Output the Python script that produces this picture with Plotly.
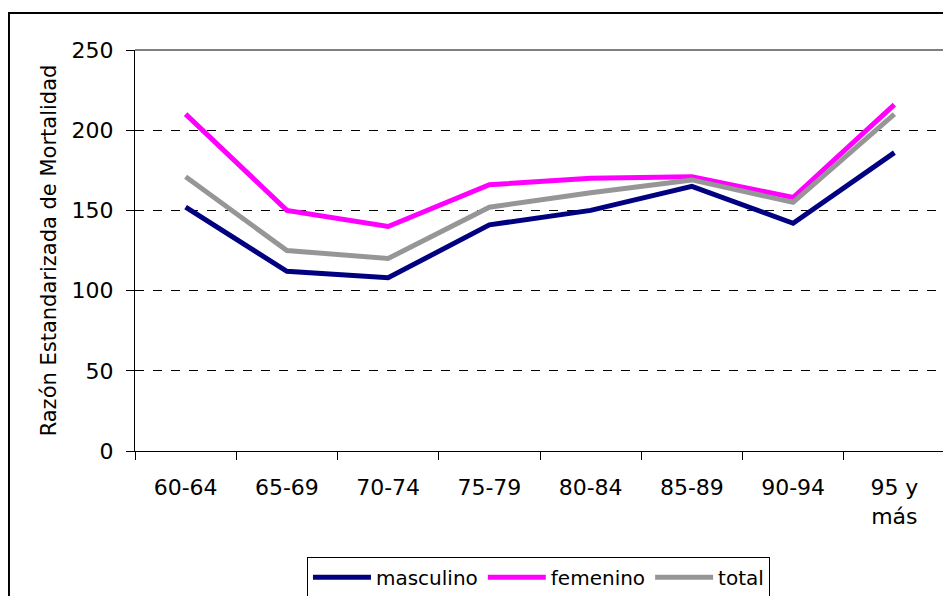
import plotly.graph_objects as go

# grupos de edad y razones estandarizadas de mortalidad
grupos = ["60-64", "65-69", "70-74", "75-79", "80-84", "85-89", "90-94", "95 y<br>más"]
masculino = [152, 112, 108, 141, 150, 165, 142, 186]
femenino = [210, 150, 140, 166, 170, 171, 158, 216]
total = [171, 125, 120, 152, 161, 169, 155, 210]

fuente = "DejaVu Sans"

fig = go.Figure()
fig.add_trace(go.Scatter(x=grupos, y=masculino, mode="lines", name="masculino",
                         line=dict(color="#000080", width=5)))
fig.add_trace(go.Scatter(x=grupos, y=femenino, mode="lines", name="femenino",
                         line=dict(color="#FF00FF", width=5)))
fig.add_trace(go.Scatter(x=grupos, y=total, mode="lines", name="total",
                         line=dict(color="#969696", width=5)))

# la página tiene 8px de margen; el lienzo sobresale por abajo (queda cortado, como el original)
fig.update_layout(
    width=943, height=610,
    margin=dict(l=127, r=6, t=42, b=167),
    paper_bgcolor="white", plot_bgcolor="white",
    font=dict(family=fuente, size=20, color="black"),
    showlegend=True,
    legend=dict(orientation="h", x=0.2123, y=-0.264, xanchor="left", yanchor="top",
                bordercolor="black", borderwidth=1, font=dict(size=20),
                itemwidth=58, traceorder="normal"),
)

fig.update_xaxes(type="category", range=[-0.5, 7.5], showline=True, linecolor="black",
                 linewidth=1, ticks="outside", tickson="boundaries", ticklen=8,
                 tickcolor="black", showgrid=False, ticklabelstandoff=17,
                 tickfont=dict(size=22))
fig.update_yaxes(range=[0, 250], dtick=50, showline=True, linecolor="black", linewidth=1,
                 ticks="outside", ticklen=8, tickcolor="black", showgrid=True,
                 gridcolor="black", griddash="dash", gridwidth=1, zeroline=False,
                 ticklabelstandoff=8, tickfont=dict(size=22),
                 title=dict(text="Razón Estandarizada de Mortalidad", standoff=9,
                            font=dict(size=21)))

# borde gris del área de trazado (arriba y derecha)
fig.add_shape(type="line", xref="paper", yref="paper", x0=0, x1=1, y0=1, y1=1,
              line=dict(color="#808080", width=2))
fig.add_shape(type="line", xref="paper", yref="paper", x0=1, x1=1, y0=0, y1=1,
              line=dict(color="#808080", width=2))
# borde del gráfico
fig.add_shape(type="rect", xref="paper", yref="paper", x0=-0.1556, x1=1.02,
              y0=-0.40, y1=1.0923, line=dict(color="black", width=2))

fig.write_html("out.html")
